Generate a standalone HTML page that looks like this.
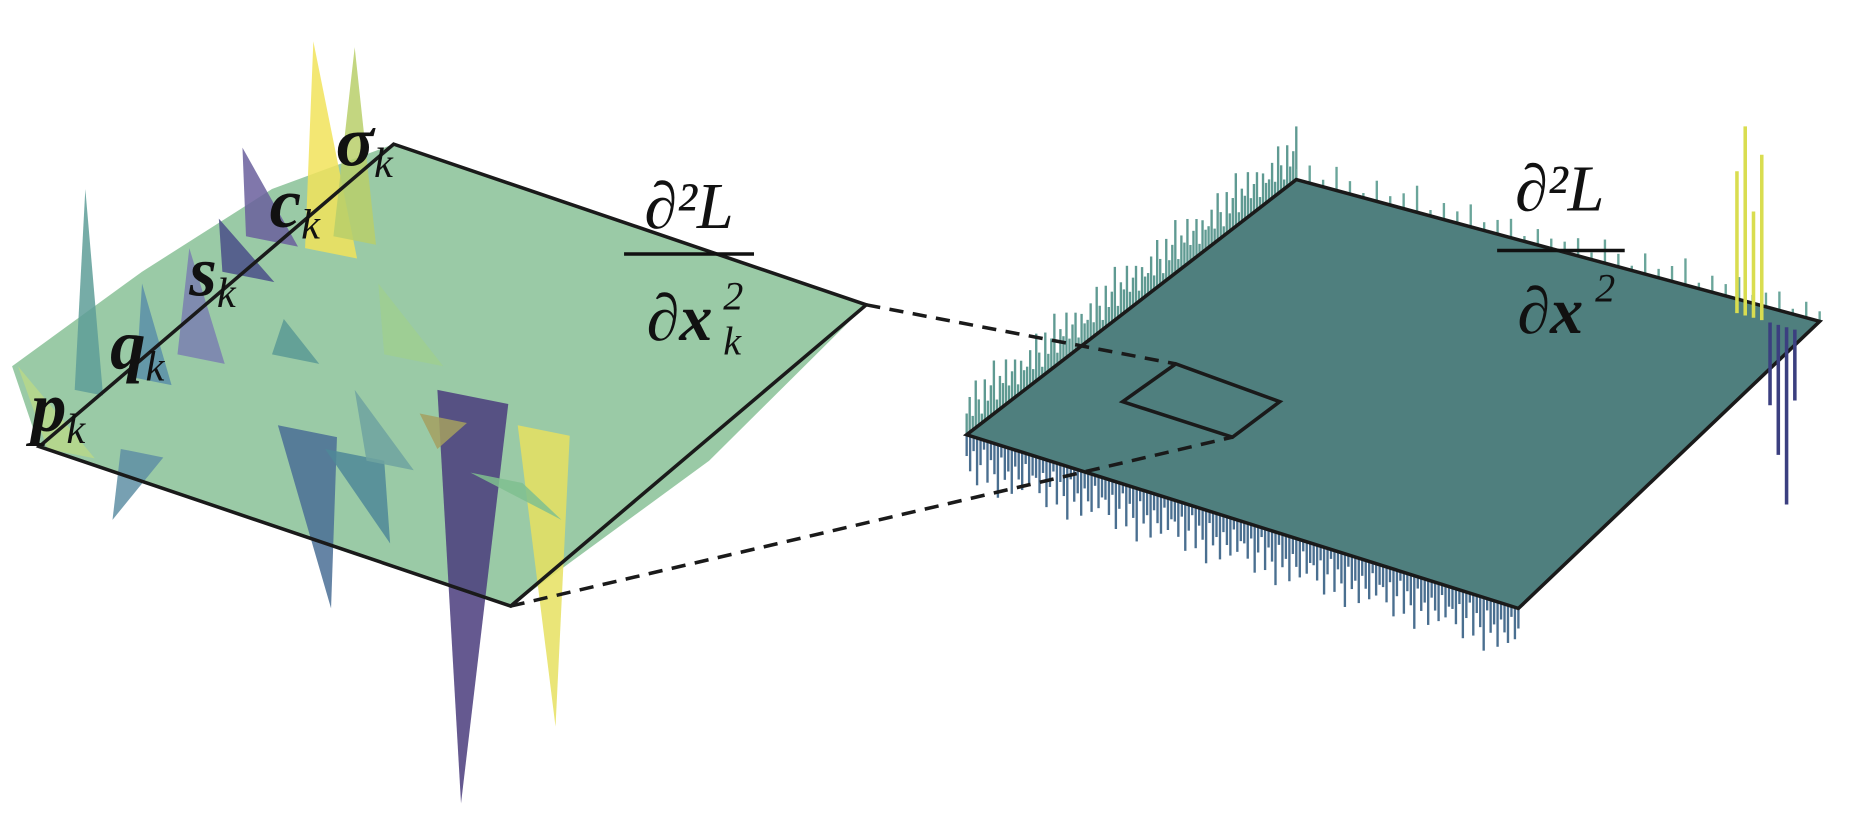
<!DOCTYPE html>
<html><head><meta charset="utf-8">
<style>
html,body{margin:0;padding:0;background:#fff;}
svg{display:block;}
text{font-family:"Liberation Serif",serif;fill:#111;}
</style></head>
<body>
<svg id="fig" width="1853" height="814" viewBox="0 0 1568 689" xmlns="http://www.w3.org/2000/svg">
  <g id="left-surface">
    <polygon points="333,122 733,258 600,390 432,513 300,470 33,378 10,310 120,230 230,160" fill="#8fc49c" opacity="0.9"/>
  </g>
  <g id="left-spikes"></g>
  <polygon points="333,122 733,258 432,513 33,378" fill="none" stroke="#1a1a1a" stroke-width="3"/>

  <g id="right-noise"></g>
  <polygon points="1097,152 1540,272 1285,515 818,368" fill="#4f7f7e" stroke="#1a1a1a" stroke-width="3"/>
  <g id="right-right-spikes"></g>
  <polygon points="950,340 995,308 1083,340 1043,370" fill="none" stroke="#1a1a1a" stroke-width="3"/>

  <line x1="733" y1="258" x2="995" y2="308" stroke="#1a1a1a" stroke-width="3" stroke-dasharray="12,8"/>
  <line x1="432" y1="513" x2="1043" y2="370" stroke="#1a1a1a" stroke-width="3" stroke-dasharray="12,8"/>

  <g>
    <text x="583" y="193" font-size="56" font-style="italic" text-anchor="middle">∂²L</text>
    <line x1="528" y1="215" x2="638" y2="215" stroke="#111" stroke-width="3"/>
    <text x="575" y="288" font-size="56" font-style="italic" text-anchor="middle">∂<tspan font-weight="bold">x</tspan></text>
    <text x="612" y="262" font-size="34" font-style="italic">2</text>
    <text x="612" y="300" font-size="34" font-style="italic">k</text>
  </g>
  <g>
    <text x="1320" y="178" font-size="56" font-style="italic" text-anchor="middle">∂²L</text>
    <line x1="1267" y1="212" x2="1375" y2="212" stroke="#111" stroke-width="3"/>
    <text x="1312" y="282" font-size="56" font-style="italic" text-anchor="middle">∂<tspan font-weight="bold">x</tspan></text>
    <text x="1350" y="255" font-size="34" font-style="italic">2</text>
  </g>

  <g font-weight="bold" font-style="italic">
    <text x="26" y="365" font-size="60">p<tspan font-size="36" font-weight="normal" dy="10">k</tspan></text>
    <text x="93" y="312" font-size="60">q<tspan font-size="36" font-weight="normal" dy="10">k</tspan></text>
    <text x="160" y="250" font-size="60">s<tspan font-size="36" font-weight="normal" dy="10">k</tspan></text>
    <text x="228" y="192" font-size="60">c<tspan font-size="36" font-weight="normal" dy="10">k</tspan></text>
    <text x="284" y="140" font-size="60">σ<tspan font-size="36" font-weight="normal" dy="10">k</tspan></text>
  </g>
</svg>
<script>
// Left surface spikes: base x, base y, tip x, tip y, half-width, colour
const spikeBaseX=[280,300,230,210,75,130,170,260,300,400,375,460,420,330,120,60,350,250];
const spikeBaseY=[210,200,200,230,330,320,300,360,380,330,350,360,400,390,380,380,300,300];
const spikeTipX=[265,300,205,185,72,120,160,280,330,390,370,470,475,300,95,15,320,240];
const spikeTipY=[35,40,125,185,160,240,210,515,460,680,380,615,440,330,440,310,240,270];
const spikeWidth=[22,18,22,22,12,15,20,25,25,30,20,22,22,20,18,20,25,20];
const spikeColor=["#f1e35a","#b8cf6a","#6a5f9c","#4a4f88","#5e9d98","#5a8fa8","#7a80b0","#4a6f95","#4f8898","#4a3c7c","#a4a060","#e6e060","#7fbf8f","#6fa3a0","#5f8fa4","#b7d88a","#9fcf90","#5b9a94"];
const NS="http://www.w3.org/2000/svg";
const ls=document.getElementById('left-spikes');
for(let i=0;i<spikeBaseX.length;i++){
  const p=document.createElementNS(NS,'polygon');
  const bx=spikeBaseX[i],by=spikeBaseY[i],w=spikeWidth[i];
  p.setAttribute('points',`${bx-w},${by} ${spikeTipX[i]},${spikeTipY[i]} ${bx+w},${by+w*0.4}`);
  p.setAttribute('fill',spikeColor[i]);
  p.setAttribute('opacity','0.85');
  
  
  ls.appendChild(p);
}
// Right plane edge noise heights
const noiseHeights=[18,30,12,40,22,8,35,15,26,45,10,28,20,38,14,24,32,9,27,17];
const rn=document.getElementById('right-noise');
function edge(x1,y1,x2,y2,n,dir,col){
  for(let i=0;i<n;i++){
    const t=i/(n-1), x=x1+(x2-x1)*t, y=y1+(y2-y1)*t;
    const h=noiseHeights[i%noiseHeights.length];
    const l=document.createElementNS(NS,'line');
    l.setAttribute('x1',x);l.setAttribute('y1',y);
    l.setAttribute('x2',x);l.setAttribute('y2',y+dir*h);
    l.setAttribute('stroke',col);l.setAttribute('stroke-width','2');
    
    
    rn.appendChild(l);
  }
}
edge(818,368,1097,152,110,-1,'#5f9a92');
edge(1097,152,1540,272,40,-0.5,'#6aa59a');
edge(818,368,1285,515,160,1,'#4a6f90');
// right edge tall spikes
const rightSpikeH=[120,160,90,140,70,110,150,60];
const rsY=[-1,-1,-1,-1,1,1,1,1];
const rr=document.getElementById('right-right-spikes');
for(let i=0;i<rightSpikeH.length;i++){
  const x=1470+i*7, y=265+i*2;
  const l=document.createElementNS(NS,'line');
  l.setAttribute('x1',x);l.setAttribute('y1',y);
  l.setAttribute('x2',x);l.setAttribute('y2',y+rsY[i]*rightSpikeH[i]);
  l.setAttribute('stroke',rsY[i]<0?'#d9dd50':'#3b3f80');
  l.setAttribute('stroke-width','3');
  
  
  rr.appendChild(l);
}
</script>
</body></html>
